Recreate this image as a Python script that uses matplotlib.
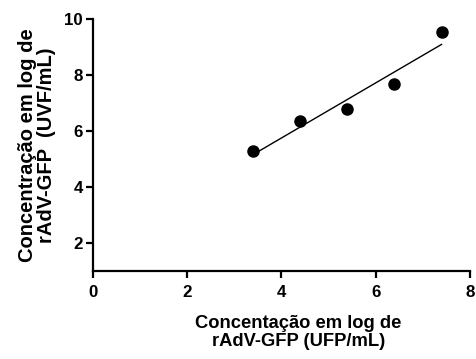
import matplotlib.pyplot as plt
import numpy as np

# log UFP/mL vs log UVF/mL
x_ufp = [3.4, 4.4, 5.4, 6.4, 7.4]
y_uvf = [5.27, 6.35, 6.78, 7.68, 9.53]
x_ticks = [0, 2, 4, 6, 8]
y_ticks = [2, 4, 6, 8, 10]

plt.rcParams['font.family'] = ['Liberation Sans', 'DejaVu Sans']
plt.rcParams['font.weight'] = 'bold'

fig = plt.figure(figsize=(4.76, 3.59), dpi=100)
ax = fig.add_axes([0.195, 0.246, 0.792, 0.701])

ax.plot(x_ufp, y_uvf, 'o', color='black', markersize=8)
slope, icpt = np.polyfit(x_ufp, y_uvf, 1)
xf = np.array([min(x_ufp), max(x_ufp)])
ax.plot(xf, slope * xf + icpt, color='black', linewidth=1)

ax.set_xlim(0, 8)
ax.set_ylim(1, 10)
ax.set_xticks(x_ticks)
ax.set_yticks(y_ticks)
ax.spines['top'].set_visible(False)
ax.spines['right'].set_visible(False)
for s in ['left', 'bottom']:
    ax.spines[s].set_linewidth(1.6)
ax.tick_params(direction='out', length=5, width=1.6, labelsize=12.2, pad=2)
ax.tick_params(axis='x', pad=5)
for lab in ax.get_xticklabels() + ax.get_yticklabels():
    lab.set_fontweight('bold')

ax.set_xlabel('Concentação em log de\nrAdV-GFP (UFP/mL)', fontsize=13.2,
              fontweight='bold', x=0.545, labelpad=11, linespacing=1.05)
ax.set_ylabel('Concentração em log de\nrAdV-GFP  (UVF/mL)', fontsize=14.5,
              fontweight='bold', labelpad=6, linespacing=1.0)

fig.savefig('out.png', dpi=100)
